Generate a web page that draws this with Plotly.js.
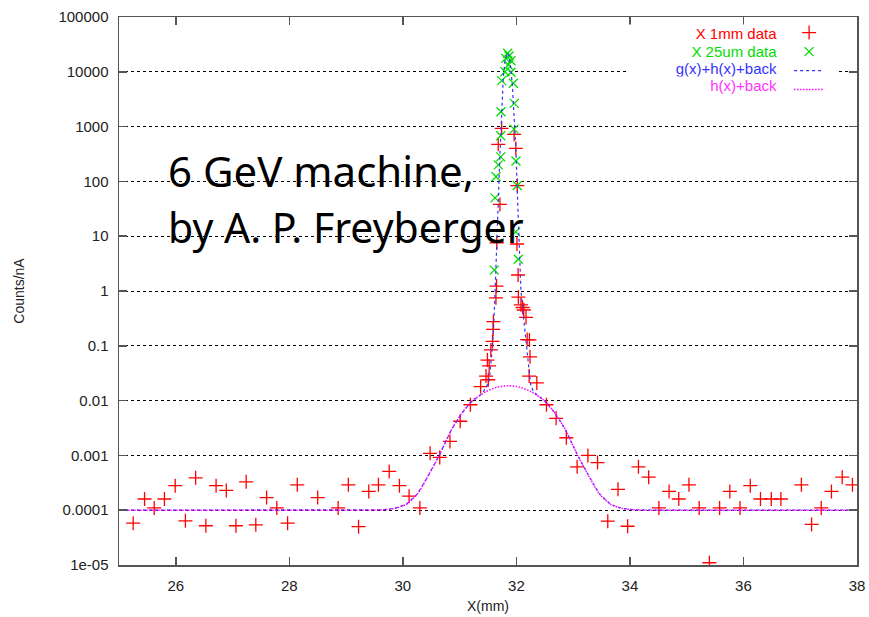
<!DOCTYPE html>
<html>
<head>
<meta charset="utf-8">
<script src="https://cdn.plot.ly/plotly-3.0.1.min.js"></script>
<style>html,body{margin:0;padding:0;background:#fff;}#chart{width:869px;height:617px;}</style>
</head>
<body>
<div id="chart"></div>
<script>
// X 1mm data (red +)
const x1mm = [25.25, 25.45, 25.62, 25.80, 25.99, 26.17, 26.35, 26.53, 26.71, 26.89, 27.06, 27.24, 27.41, 27.60, 27.78, 27.97, 28.14, 28.50, 28.86, 29.04, 29.22, 29.40, 29.57, 29.76, 29.94, 30.11, 30.30, 30.48, 30.65, 30.83, 31.01, 31.19, 31.37, 31.465, 31.49, 31.505, 31.52, 31.55, 31.58, 31.59, 31.595, 31.64, 31.65, 31.655, 31.68, 31.71, 31.74, 31.96, 31.99, 32.01, 32.016, 32.03, 32.035, 32.08, 32.11, 32.13, 32.17, 32.19, 32.23, 32.24, 32.225, 32.36, 32.53, 32.70, 32.88, 33.07, 33.26, 33.43, 33.61, 33.79, 33.96, 34.15, 34.33, 34.51, 34.69, 34.86, 35.04, 35.22, 35.40, 35.58, 35.76, 35.94, 36.12, 36.30, 36.49, 36.66, 37.02, 37.20, 37.37, 37.55, 37.74, 37.92];
const y1mm = [5.8e-5, 1.6e-4, 1.1e-4, 1.6e-4, 2.8e-4, 6.4e-5, 3.9e-4, 5.2e-5, 2.8e-4, 2.3e-4, 5.2e-5, 3.3e-4, 5.4e-5, 1.7e-4, 1.1e-4, 5.8e-5, 2.9e-4, 1.7e-4, 1.1e-4, 2.9e-4, 5.0e-5, 2.2e-4, 2.9e-4, 5.1e-4, 2.8e-4, 1.8e-4, 1.1e-4, 1.09e-3, 9.2e-4, 1.8e-3, 4.2e-3, 8.4e-3, 0.018, 0.028, 0.055, 0.024, 0.043, 0.084, 0.12, 0.20, 0.275, 0.75, 1.23, 7.6, 475, 38, 930, 720, 400, 7.2, 84, 1.96, 0.77, 0.56, 0.50, 0.45, 0.33, 0.13, 0.128, 0.063, 0.028, 0.021, 8.4e-3, 4.75e-3, 2.1e-3, 6.2e-4, 1.0e-3, 7.4e-4, 6.3e-5, 2.4e-4, 5.1e-5, 6.2e-4, 4.0e-4, 1.1e-4, 2.2e-4, 1.6e-4, 2.9e-4, 1.1e-4, 1.1e-5, 1.1e-4, 2.2e-4, 1.1e-4, 2.8e-4, 1.6e-4, 1.6e-4, 1.6e-4, 2.9e-4, 5.5e-5, 1.1e-4, 2.2e-4, 4.0e-4, 2.9e-4];

// X 25um data (green x)
const x25um = [31.611, 31.623, 31.641, 31.681, 31.724, 31.724, 31.729, 31.741, 31.799, 31.812, 31.847, 31.870, 31.858, 31.905, 31.905, 31.946, 31.963, 31.958, 31.993, 32.016, 31.988, 32.034];
const y25um = [2.4, 50, 122, 200, 280, 680, 1870, 6900, 10000, 17600, 21800, 19400, 13300, 15900, 9800, 6200, 2650, 900, 236, 84, 12, 3.8];

// g(x)+h(x)+back (blue dashed)
const xFit = [25, 29.0, 29.36, 29.66, 29.86, 30.06, 30.26, 30.46, 30.64, 30.86, 31.06, 31.23, 31.40, 31.52, 31.56, 31.59, 31.62, 31.65, 31.68, 31.71, 31.74, 31.77, 31.80, 31.835, 31.87, 31.90, 31.93, 31.96, 31.99, 32.02, 32.05, 32.08, 32.13, 32.17, 32.21, 32.25, 32.30, 32.49, 32.66, 32.86, 33.08, 33.26, 33.46, 33.66, 33.86, 34.06, 34.36, 38];
const yFit = [1e-4, 1e-4, 1e-4, 1.02e-4, 1.08e-4, 1.28e-4, 2.0e-4, 4.5e-4, 1.0e-3, 3.0e-3, 6.3e-3, 0.0100, 0.0135, 0.022, 0.06, 0.15, 0.7, 4, 40, 300, 2000, 8000, 16000, 22000, 20000, 12000, 5500, 1800, 400, 50, 6, 1.0, 0.3, 0.12, 0.05, 0.02, 0.0145, 0.0100, 0.0063, 0.0030, 1.0e-3, 4.5e-4, 2.0e-4, 1.28e-4, 1.08e-4, 1.02e-4, 1e-4, 1e-4];

// h(x)+back (magenta dotted)
const xBack = [25, 29.0, 29.36, 29.66, 29.86, 30.06, 30.26, 30.46, 30.64, 30.86, 31.06, 31.23, 31.46, 31.66, 31.86, 32.06, 32.26, 32.49, 32.66, 32.86, 33.08, 33.26, 33.46, 33.66, 33.86, 34.06, 34.36, 38];
const yBack = [1e-4, 1e-4, 1e-4, 1.02e-4, 1.08e-4, 1.28e-4, 2.0e-4, 4.5e-4, 1.0e-3, 3.0e-3, 6.3e-3, 0.0100, 0.0145, 0.0176, 0.0187, 0.0176, 0.0145, 0.0100, 0.0063, 0.0030, 1.0e-3, 4.5e-4, 2.0e-4, 1.28e-4, 1.08e-4, 1.02e-4, 1e-4, 1e-4];

const seriesNames = ["X 1mm data", "X 25um data", "g(x)+h(x)+back", "h(x)+back"];
const seriesColors = ["#ff0000", "#00dd00", "#3333ff", "#ff33ff"];

const xTickVals = [26, 28, 30, 32, 34, 36, 38];
const xTickText = ["26", "28", "30", "32", "34", "36", "38"];
const yTickVals = [1e-5, 1e-4, 1e-3, 1e-2, 1e-1, 1, 10, 100, 1000, 10000, 100000];
const yTickText = ["1e-05", "0.0001", "0.001", "0.01", "0.1", "1", "10", "100", "1000", "10000", "100000"];

const FONT = "Liberation Sans, Arial, sans-serif";

const traces = [
  {x: x1mm, y: y1mm, type: "scatter", mode: "markers", name: "\u00a0",
   marker: {symbol: "cross-thin", size: 10, color: seriesColors[0], line: {width: 1.3, color: seriesColors[0]}}},
  {x: x25um, y: y25um, type: "scatter", mode: "markers", name: "\u00a0",
   marker: {symbol: "x-thin", size: 9, color: seriesColors[1], line: {width: 1.3, color: seriesColors[1]}}},
  {x: xFit, y: yFit, type: "scatter", mode: "lines", name: "\u00a0",
   line: {color: seriesColors[2], width: 1.2, dash: "3px,3px"}},
  {x: xBack, y: yBack, type: "scatter", mode: "lines", name: "\u00a0",
   line: {color: "#ff00ff", width: 1.5, dash: "1.5px,1.5px", shape: "spline", smoothing: 0.7}}
];

// legend texts (gnuplot style: right-aligned text left of the sample)
const legendY = [0.970, 0.937, 0.906, 0.875];
const annotations = seriesNames.map((n, i) => ({
  xref: "paper", yref: "paper", x: 0.909, y: legendY[i], xanchor: "right", yanchor: "middle",
  width: 160, align: "right", bgcolor: "#fff", borderpad: 0,
  text: n + "\u00a0\u00a0\u00a0", showarrow: false, font: {family: FONT, size: 15, color: seriesColors[i]}
}));
annotations.push({xref: "paper", yref: "paper", x: 0.064, y: 0.719, xanchor: "left", yanchor: "middle",
  text: "6 GeV machine,", showarrow: false, font: {family: "Noto Sans, Open Sans, sans-serif", size: 42, color: "#000"}});
annotations.push({xref: "paper", yref: "paper", x: 0.064, y: 0.617, xanchor: "left", yanchor: "middle",
  text: "by A. P. Freyberger", showarrow: false, font: {family: "Noto Sans, Open Sans, sans-serif", size: 41, color: "#000"}});

const layout = {
  width: 869, height: 617,
  margin: {l: 119, r: 12, t: 17, b: 52},
  paper_bgcolor: "#fff", plot_bgcolor: "#fff",
  font: {family: FONT, size: 15, color: "#222"},
  showlegend: true,
  legend: {x: 0.908, xanchor: "left", y: 0.998, yanchor: "top", bgcolor: "#fff",
           font: {size: 11}, tracegroupgap: 0},
  xaxis: {type: "linear", range: [25, 38], tickvals: xTickVals, ticktext: xTickText,
          ticks: "inside", ticklen: 8, tickcolor: "#555", tickwidth: 1.5,
          showline: true, linecolor: "#555", linewidth: 1.5, mirror: "ticks",
          showgrid: false, zeroline: false, ticklabelstandoff: 6,
          title: {text: "X(mm)", font: {size: 14, color: "#222"}, standoff: 8}},
  yaxis: {type: "log", range: [-5, 5], tickvals: yTickVals, ticktext: yTickText,
          ticks: "inside", ticklen: 8, tickcolor: "#555", tickwidth: 1.5,
          showline: true, linecolor: "#555", linewidth: 1.5, mirror: "ticks",
          showgrid: true, gridcolor: "#000", griddash: "dot", gridwidth: 1, zeroline: false,
          ticklabelstandoff: 6,
          title: {text: "Counts/nA", font: {size: 14, color: "#222"}, standoff: 30}},
  annotations: annotations
};

Plotly.newPlot("chart", traces, layout, {displayModeBar: false, staticPlot: true});
</script>
</body>
</html>
